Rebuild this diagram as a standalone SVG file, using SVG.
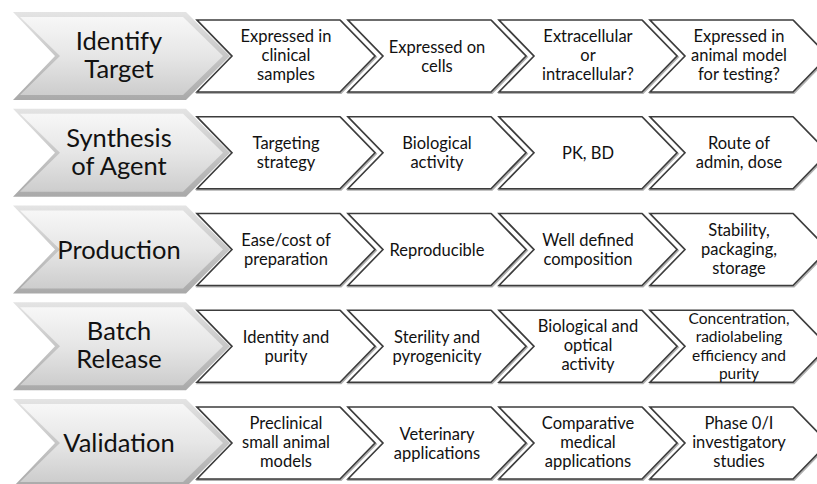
<svg xmlns="http://www.w3.org/2000/svg" width="817" height="484" viewBox="0 0 817 484">
<defs>
<linearGradient id="gBigOuter" x1="0" y1="0" x2="0" y2="1">
<stop offset="0" stop-color="#e4e4e4"/>
<stop offset="1" stop-color="#a9a9a9"/>
</linearGradient>
<linearGradient id="gBigFace" x1="0" y1="0" x2="0" y2="1">
<stop offset="0" stop-color="#f7f7f7"/>
<stop offset="0.5" stop-color="#e6e6e6"/>
<stop offset="1" stop-color="#cdcdcd"/>
</linearGradient>
<path id="bigOuter" d="M0,0 H173 L217,44 L173,88 H0 L42,44 Z"/>
<path id="bigFace" d="M7,5 H170 L210,44 L170,83 H7 L47,44 Z"/>
<path id="small" d="M0,0 H143 L178,36 L143,72 H0 L35,36 Z"/>
<style>
.bo{fill:url(#gBigOuter);}
.bf{fill:url(#gBigFace);}
.sh{fill:none;stroke:#b0b0b0;stroke-width:2;}
.sc{fill:#ffffff;stroke:#3c3c3c;stroke-width:1.6;stroke-linejoin:miter;}
.big{font-family:Lato,"Liberation Sans",sans-serif;font-size:25.5px;fill:#111;text-anchor:middle;}
.sm{font-family:Lato,"Liberation Sans",sans-serif;font-size:16.5px;fill:#111;text-anchor:middle;}
.sm4{font-size:15.5px;}
</style>
</defs>
<g id="connectors"/>

<!-- Row 1 -->
<g id="identify-target" transform="translate(13,12)">
<use href="#bigOuter" class="bo"/><use href="#bigFace" class="bf"/>
<text class="big" x="106" y="38">Identify</text>
<text class="big" x="106" y="66">Target</text>
</g>
<g id="r1c1" transform="translate(197,20)">
<use href="#small" class="sh" x="1" y="1"/><use href="#small" class="sc"/>
<text class="sm" x="89" y="22">Expressed in</text>
<text class="sm" x="89" y="41">clinical</text>
<text class="sm" x="89" y="60">samples</text>
</g>
<g id="r1c2" transform="translate(348,20)">
<use href="#small" class="sh" x="1" y="1"/><use href="#small" class="sc"/>
<text class="sm" x="89" y="32.5">Expressed on</text>
<text class="sm" x="89" y="51.5">cells</text>
</g>
<g id="r1c3" transform="translate(499,20)">
<use href="#small" class="sh" x="1" y="1"/><use href="#small" class="sc"/>
<text class="sm" x="89" y="22">Extracellular</text>
<text class="sm" x="89" y="41">or</text>
<text class="sm" x="89" y="60">intracellular?</text>
</g>
<g id="r1c4" transform="translate(650,20)">
<use href="#small" class="sh" x="1" y="1"/><use href="#small" class="sc"/>
<text class="sm" x="89" y="22">Expressed in</text>
<text class="sm" x="89" y="41">animal model</text>
<text class="sm" x="89" y="60">for testing?</text>
</g>

<!-- Row 2 -->
<g id="synthesis-of-agent" transform="translate(13,108.75)">
<use href="#bigOuter" class="bo"/><use href="#bigFace" class="bf"/>
<text class="big" x="106" y="38">Synthesis</text>
<text class="big" x="106" y="66">of Agent</text>
</g>
<g id="r2c1" transform="translate(197,116.75)">
<use href="#small" class="sh" x="1" y="1"/><use href="#small" class="sc"/>
<text class="sm" x="89" y="32.5">Targeting</text>
<text class="sm" x="89" y="51.5">strategy</text>
</g>
<g id="r2c2" transform="translate(348,116.75)">
<use href="#small" class="sh" x="1" y="1"/><use href="#small" class="sc"/>
<text class="sm" x="89" y="32.5">Biological</text>
<text class="sm" x="89" y="51.5">activity</text>
</g>
<g id="r2c3" transform="translate(499,116.75)">
<use href="#small" class="sh" x="1" y="1"/><use href="#small" class="sc"/>
<text class="sm" x="89" y="42">PK, BD</text>
</g>
<g id="r2c4" transform="translate(650,116.75)">
<use href="#small" class="sh" x="1" y="1"/><use href="#small" class="sc"/>
<text class="sm" x="89" y="32.5">Route of</text>
<text class="sm" x="89" y="51.5">admin, dose</text>
</g>

<!-- Row 3 -->
<g id="production" transform="translate(13,205.5)">
<use href="#bigOuter" class="bo"/><use href="#bigFace" class="bf"/>
<text class="big" x="106" y="53">Production</text>
</g>
<g id="r3c1" transform="translate(197,213.5)">
<use href="#small" class="sh" x="1" y="1"/><use href="#small" class="sc"/>
<text class="sm" x="89" y="32.5">Ease/cost of</text>
<text class="sm" x="89" y="51.5">preparation</text>
</g>
<g id="r3c2" transform="translate(348,213.5)">
<use href="#small" class="sh" x="1" y="1"/><use href="#small" class="sc"/>
<text class="sm" x="89" y="42">Reproducible</text>
</g>
<g id="r3c3" transform="translate(499,213.5)">
<use href="#small" class="sh" x="1" y="1"/><use href="#small" class="sc"/>
<text class="sm" x="89" y="32.5">Well defined</text>
<text class="sm" x="89" y="51.5">composition</text>
</g>
<g id="r3c4" transform="translate(650,213.5)">
<use href="#small" class="sh" x="1" y="1"/><use href="#small" class="sc"/>
<text class="sm" x="89" y="22">Stability,</text>
<text class="sm" x="89" y="41">packaging,</text>
<text class="sm" x="89" y="60">storage</text>
</g>

<!-- Row 4 -->
<g id="batch-release" transform="translate(13,302.25)">
<use href="#bigOuter" class="bo"/><use href="#bigFace" class="bf"/>
<text class="big" x="106" y="38">Batch</text>
<text class="big" x="106" y="66">Release</text>
</g>
<g id="r4c1" transform="translate(197,310.25)">
<use href="#small" class="sh" x="1" y="1"/><use href="#small" class="sc"/>
<text class="sm" x="89" y="32.5">Identity and</text>
<text class="sm" x="89" y="51.5">purity</text>
</g>
<g id="r4c2" transform="translate(348,310.25)">
<use href="#small" class="sh" x="1" y="1"/><use href="#small" class="sc"/>
<text class="sm" x="89" y="32.5">Sterility and</text>
<text class="sm" x="89" y="51.5">pyrogenicity</text>
</g>
<g id="r4c3" transform="translate(499,310.25)">
<use href="#small" class="sh" x="1" y="1"/><use href="#small" class="sc"/>
<text class="sm" x="89" y="22">Biological and</text>
<text class="sm" x="89" y="41">optical</text>
<text class="sm" x="89" y="60">activity</text>
</g>
<g id="r4c4" transform="translate(650,310.25)">
<use href="#small" class="sh" x="1" y="1"/><use href="#small" class="sc"/>
<text class="sm sm4" x="89" y="13.5">Concentration,</text>
<text class="sm sm4" x="89" y="32">radiolabeling</text>
<text class="sm sm4" x="89" y="50.5">efficiency and</text>
<text class="sm sm4" x="89" y="69">purity</text>
</g>

<!-- Row 5 -->
<g id="validation" transform="translate(13,399)">
<use href="#bigOuter" class="bo"/><use href="#bigFace" class="bf"/>
<text class="big" x="106" y="53">Validation</text>
</g>
<g id="r5c1" transform="translate(197,407)">
<use href="#small" class="sh" x="1" y="1"/><use href="#small" class="sc"/>
<text class="sm" x="89" y="22">Preclinical</text>
<text class="sm" x="89" y="41">small animal</text>
<text class="sm" x="89" y="60">models</text>
</g>
<g id="r5c2" transform="translate(348,407)">
<use href="#small" class="sh" x="1" y="1"/><use href="#small" class="sc"/>
<text class="sm" x="89" y="32.5">Veterinary</text>
<text class="sm" x="89" y="51.5">applications</text>
</g>
<g id="r5c3" transform="translate(499,407)">
<use href="#small" class="sh" x="1" y="1"/><use href="#small" class="sc"/>
<text class="sm" x="89" y="22">Comparative</text>
<text class="sm" x="89" y="41">medical</text>
<text class="sm" x="89" y="60">applications</text>
</g>
<g id="r5c4" transform="translate(650,407)">
<use href="#small" class="sh" x="1" y="1"/><use href="#small" class="sc"/>
<text class="sm" x="89" y="22">Phase 0/I</text>
<text class="sm" x="89" y="41">investigatory</text>
<text class="sm" x="89" y="60">studies</text>
</g>
</svg>
